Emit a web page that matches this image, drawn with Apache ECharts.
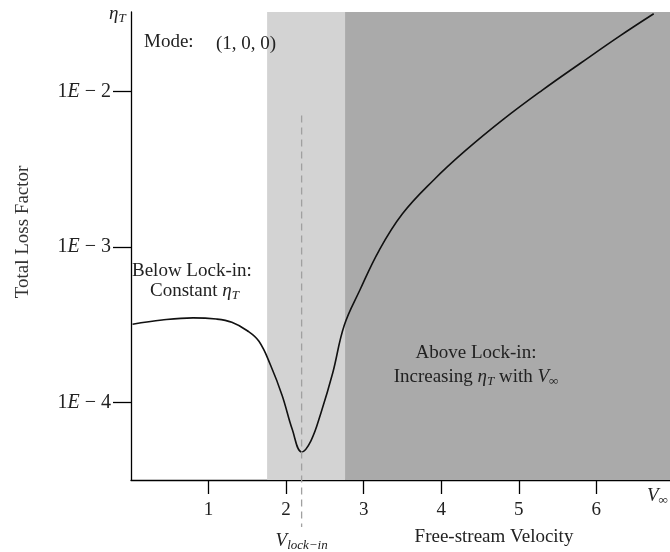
<!DOCTYPE html>
<html>
<head>
<meta charset="utf-8">
<script src="https://cdn.jsdelivr.net/npm/echarts@6/dist/echarts.min.js"></script>
<style>html,body{margin:0;padding:0;background:#fff}#c{width:670px;height:552px}</style>
</head>
<body>
<div id="c"></div>
<script>
// Free-stream velocity (x) and total loss factor eta_T (y, log scale)
const velocity = [0.02, 0.4, 0.8, 1.1, 1.3, 1.5, 1.65, 1.8, 1.95, 2.08, 2.2, 2.32, 2.45, 2.6, 2.75, 2.95, 3.2, 3.5, 3.9, 4.3, 4.8, 5.3, 5.8, 6.3, 6.74];
const etaT = [3.177e-4, 3.381e-4, 3.491e-4, 3.428e-4, 3.266e-4, 2.884e-4, 2.466e-4, 1.730e-4, 1.102e-4, 6.67e-5, 4.79e-5, 5.65e-5, 8.57e-5, 1.535e-4, 3.126e-4, 5.25e-4, 9.495e-4, 1.629e-3, 2.679e-3, 4.102e-3, 6.592e-3, 1.014e-2, 1.521e-2, 2.265e-2, 3.155e-2];
const xTicks = [1, 2, 3, 4, 5, 6];
const yTicks = [1e-4, 1e-3, 1e-2];
const lockInRegion = [1.755, 2.76];
const aboveRegion = [2.76, 6.95];
const vLockIn = 2.2;

const FONT = 'Liberation Serif';
const chart = echarts.init(document.getElementById('c'));
const data = velocity.map((v, i) => [v, etaT[i]]);

chart.setOption({
  animation: false,
  grid: {left: 131, right: 0, top: 12, bottom: 72, containLabel: false},
  xAxis: {
    type: 'value', min: 0, max: 6.95,
    axisLine: {show: true, lineStyle: {color: '#000', width: 1.3}},
    axisTick: {show: true, customValues: xTicks, length: 14, lineStyle: {color: '#000', width: 1.3}},
    axisLabel: {customValues: xTicks, margin: 21, color: '#222', fontFamily: FONT, fontSize: 19},
    splitLine: {show: false}
  },
  yAxis: {
    type: 'log', logBase: 10, min: Math.pow(10, -4.5), max: Math.pow(10, -1.49),
    axisLine: {show: true, lineStyle: {color: '#000', width: 1.3}},
    axisTick: {show: true, customValues: yTicks, length: 18, lineStyle: {color: '#000', width: 1.3}},
    axisLabel: {
      customValues: yTicks, margin: 20, color: '#222', fontFamily: FONT, fontSize: 20,
      formatter: v => '1{i|E} − ' + Math.round(-Math.log10(v)),
      rich: {i: {fontStyle: 'italic', fontFamily: FONT, fontSize: 20, color: '#222'}}
    },
    splitLine: {show: false}
  },
  series: [{
    type: 'line', data: data, smooth: 0.4, showSymbol: false, clip: true,
    lineStyle: {color: '#111', width: 1.6},
    markArea: {
      silent: true,
      data: [
        [{xAxis: lockInRegion[0], itemStyle: {color: '#d3d3d3'}}, {xAxis: lockInRegion[1]}],
        [{xAxis: aboveRegion[0], itemStyle: {color: '#aaaaaa'}}, {xAxis: aboveRegion[1]}]
      ]
    },
    z: 3
  }]
});

const px = chart.convertToPixel({xAxisIndex: 0, yAxisIndex: 0}, [vLockIn, 7e-3]);
const txt = (x, y, rich, text, align) => ({
  type: 'text', x: x, y: y, z: 10,
  style: {text: text, rich: rich, fontFamily: FONT, fontSize: 19, fill: '#222', align: align || 'left', verticalAlign: 'middle'}
});
const richMath = {
  i: {fontStyle: 'italic', fontFamily: FONT, fontSize: 19, fill: '#222'},
  s: {fontStyle: 'italic', fontFamily: FONT, fontSize: 13, fill: '#222', padding: [10, 0, 0, 0]},
  n: {fontFamily: FONT, fontSize: 19, fill: '#222'}
};
chart.setOption({
  graphic: [
    {type: 'line', z: 4, shape: {x1: px[0], y1: px[1], x2: px[0], y2: 527}, style: {stroke: '#a0a0a0', lineWidth: 1.3, lineDash: [7, 5]}},
    txt(px[0], 541, richMath, '{i|V}{s|lock−in}', 'center'),
    txt(494, 537, richMath, '{n|Free-stream Velocity}', 'center'),
    txt(647, 496, richMath, '{i|V}{s|∞}', 'left'),
    txt(109, 14, richMath, '{i|η}{s|T}', 'left'),
    txt(144, 42, richMath, '{n|Mode:}', 'left'),
    txt(216, 44, richMath, '{n|(1, 0, 0)}', 'left'),
    txt(132, 271, richMath, '{n|Below Lock-in:}', 'left'),
    txt(150, 291, richMath, '{n|Constant }{i|η}{s|T}', 'left'),
    txt(476, 353, richMath, '{n|Above Lock-in:}', 'center'),
    txt(476, 377, richMath, '{n|Increasing }{i|η}{s|T}{n| with }{i|V}{s|∞}', 'center'),
    {type: 'text', z: 10, x: 23, y: 232, rotation: Math.PI / 2,
     style: {text: 'Total Loss Factor', fontFamily: FONT, fontSize: 19, fill: '#333', align: 'center', verticalAlign: 'middle'}}
  ]
});
</script>
</body>
</html>
